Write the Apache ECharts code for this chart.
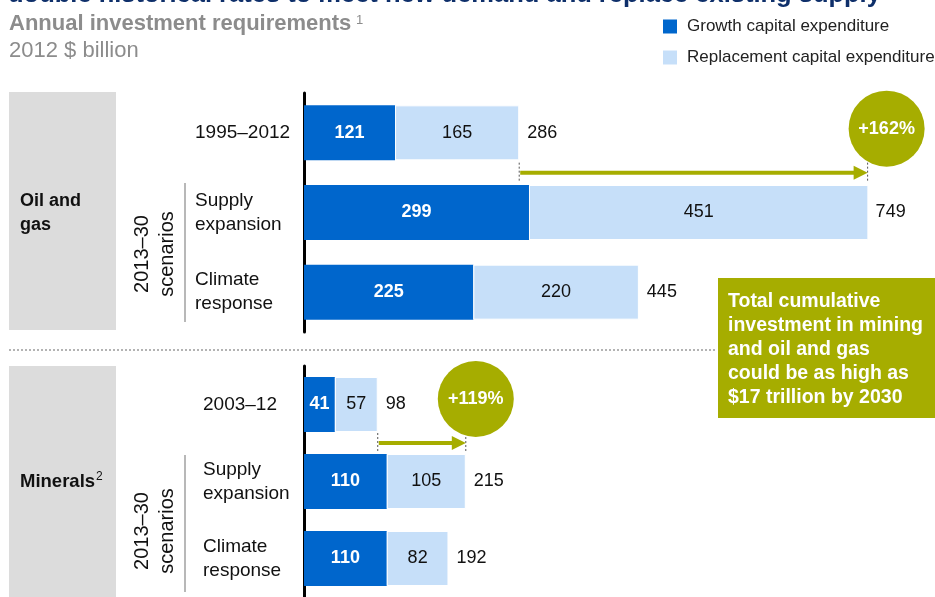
<!DOCTYPE html>
<html>
<head>
<meta charset="utf-8">
<script src="https://cdn.jsdelivr.net/npm/echarts@6/dist/echarts.min.js"></script>
<style>
  html, body { margin: 0; padding: 0; background: #fff; }
  #chart { width: 935px; height: 597px; }
</style>
</head>
<body>
<div id="chart"></div>
<script>
// Annual investment requirements, 2012 $ billion
const oilCategories = ['1995–2012', 'Supply\nexpansion', 'Climate\nresponse'];
const oilGrowth = [121, 299, 225];
const oilReplacement = [165, 451, 220];
const oilTotal = [286, 749, 445];

const mineralCategories = ['2003–12', 'Supply\nexpansion', 'Climate\nresponse'];
const mineralGrowth = [41, 110, 110];
const mineralReplacement = [57, 105, 82];
const mineralTotal = [98, 215, 192];

// Change from historical rate to supply-expansion scenario
const oilChange = '+162%';
const mineralChange = '+119%';

const FONT = 'Liberation Sans, Arial, Helvetica, sans-serif';
const BLUE = '#0066CC';
const LIGHT = '#C6DFF9';
const OLIVE = '#A6AD00';
const GREY_BOX = '#DCDCDC';

const chart = echarts.init(document.getElementById('chart'), null, { renderer: 'canvas' });

function yAxisFor(gridIndex, cats, margin) {
  return {
    type: 'category', gridIndex: gridIndex, data: cats, inverse: true,
    axisLine: { show: true, lineStyle: { color: '#000', width: 3 } },
    axisTick: { show: false },
    axisLabel: {
      align: 'left', margin: margin, fontFamily: FONT, fontSize: 19,
      lineHeight: 24, color: '#111'
    }
  };
}
function xAxisFor(gridIndex) {
  return {
    type: 'value', gridIndex: gridIndex, min: 0, max: 800, show: false,
    splitLine: { show: false }
  };
}
function growthSeries(idx, data) {
  return {
    name: 'Growth capital expenditure', type: 'bar', stack: 'g' + idx,
    xAxisIndex: idx, yAxisIndex: idx, data: data, barWidth: 55,
    itemStyle: { color: BLUE },
    label: { show: true, position: 'inside', color: '#fff', fontWeight: 'bold',
             fontFamily: FONT, fontSize: 18 },
    silent: true
  };
}
function replacementSeries(idx, data) {
  return {
    name: 'Replacement capital expenditure', type: 'bar', stack: 'g' + idx,
    xAxisIndex: idx, yAxisIndex: idx, data: data, barWidth: 55,
    itemStyle: { color: LIGHT, borderColor: '#fff', borderWidth: 1 },
    label: { show: true, position: 'inside', color: '#111',
             fontFamily: FONT, fontSize: 18 },
    silent: true
  };
}
function totalSeries(idx, totals, cats) {
  return {
    type: 'scatter', xAxisIndex: idx, yAxisIndex: idx, symbolSize: 0,
    data: totals.map((t, i) => [t, cats[i]]),
    itemStyle: { opacity: 1 },
    label: { show: true, position: 'right', distance: 8, color: '#111',
             fontFamily: FONT, fontSize: 18, formatter: p => p.value[0] },
    silent: true
  };
}

const staticGraphics = [
  // headline (partly above the canvas)
  { type: 'text', left: 8, top: -18, style: {
      text: 'double historical rates to meet new demand and replace existing supply',
      font: 'bold 25.5px ' + FONT, fill: '#0E2F6A' } },
  { type: 'text', left: 9, top: 13, style: {
      text: 'Annual investment requirements', font: 'bold 22px ' + FONT, fill: '#8C8C8C' } },
  { type: 'text', left: 356, top: 14, style: {
      text: '1', font: '13px ' + FONT, fill: '#8C8C8C' } },
  { type: 'text', left: 9, top: 40, style: {
      text: '2012 $ billion', font: '22px ' + FONT, fill: '#8C8C8C' } },
  // section boxes
  { type: 'rect', shape: { x: 9, y: 92, width: 107, height: 238 }, style: { fill: GREY_BOX }, z: -1 },
  { type: 'rect', shape: { x: 9, y: 366, width: 107, height: 240 }, style: { fill: GREY_BOX }, z: -1 },
  { type: 'text', left: 20, top: 189, style: {
      text: 'Oil and\ngas', font: 'bold 18px ' + FONT, lineHeight: 24, fill: '#111' } },
  { type: 'text', left: 20, top: 472, style: {
      text: 'Minerals', font: 'bold 18.5px ' + FONT, fill: '#111' } },
  { type: 'text', left: 96, top: 471, style: {
      text: '2', font: '12px ' + FONT, fill: '#111' } },
  // scenario brackets
  { type: 'text', x: 155, y: 254, rotation: Math.PI / 2, style: {
      text: '2013–30\nscenarios', font: '20px ' + FONT, lineHeight: 25,
      fill: '#111', align: 'center', verticalAlign: 'middle' } },
  { type: 'line', shape: { x1: 185, y1: 183, x2: 185, y2: 322 }, style: { stroke: '#A0A0A0', lineWidth: 1.5 } },
  { type: 'text', x: 155, y: 531, rotation: Math.PI / 2, style: {
      text: '2013–30\nscenarios', font: '20px ' + FONT, lineHeight: 25,
      fill: '#111', align: 'center', verticalAlign: 'middle' } },
  { type: 'line', shape: { x1: 185, y1: 455, x2: 185, y2: 592 }, style: { stroke: '#A0A0A0', lineWidth: 1.5 } },
  // section divider
  { type: 'line', shape: { x1: 9, y1: 350, x2: 716, y2: 350 },
    style: { stroke: '#9A9A9A', lineWidth: 1.5, lineDash: [2, 2] } },
  // call-out box
  { type: 'rect', shape: { x: 718, y: 278, width: 217, height: 140 }, style: { fill: OLIVE } },
  { type: 'text', left: 728, top: 290, style: {
      text: 'Total cumulative\ninvestment in mining\nand oil and gas\ncould be as high as\n$17 trillion by 2030',
      font: 'bold 19.5px ' + FONT, lineHeight: 24, fill: '#fff' } }
];

chart.setOption({
  animation: false,
  legend: {
    orient: 'vertical', left: 663, top: 18, padding: 0,
    itemWidth: 14, itemHeight: 14, itemGap: 14,
    icon: 'rect', selectedMode: false,
    data: ['Growth capital expenditure', 'Replacement capital expenditure'],
    textStyle: { fontFamily: FONT, fontSize: 17, lineHeight: 17, color: '#222',
                 padding: [0, 0, 0, 5] },
    itemStyle: { borderWidth: 0 }
  },
  grid: [
    { left: 304, top: 93, width: 602, height: 239 },
    { left: 304, top: 366, width: 602, height: 240 }
  ],
  xAxis: [xAxisFor(0), xAxisFor(1)],
  yAxis: [yAxisFor(0, oilCategories, 109), yAxisFor(1, mineralCategories, 101)],
  series: [
    growthSeries(0, oilGrowth), replacementSeries(0, oilReplacement),
    totalSeries(0, oilTotal, oilCategories),
    growthSeries(1, mineralGrowth), replacementSeries(1, mineralReplacement),
    totalSeries(1, mineralTotal, mineralCategories)
  ],
  graphic: staticGraphics
});

// Growth arrows between historical total and supply-expansion total,
// placed through the axes' own scales.
function arrowGroup(gridIdx, fromVal, toVal, label, circleDx) {
  const x1 = chart.convertToPixel({ xAxisIndex: gridIdx }, fromVal);
  const x2 = chart.convertToPixel({ xAxisIndex: gridIdx }, toVal);
  const r0 = chart.convertToPixel({ yAxisIndex: gridIdx }, 0);
  const r1 = chart.convertToPixel({ yAxisIndex: gridIdx }, 1);
  const y = (r0 + r1) / 2;
  const dash = { stroke: '#555', lineWidth: 1, lineDash: [2, 2] };
  return [
    { type: 'line', shape: { x1: x1, y1: y - 10, x2: x1, y2: y + 8 }, style: dash },
    { type: 'line', shape: { x1: x2, y1: y - 10, x2: x2, y2: y + 8 }, style: dash },
    { type: 'line', shape: { x1: x1 + 1, y1: y, x2: x2 - 12, y2: y },
      style: { stroke: OLIVE, lineWidth: 4 } },
    { type: 'polygon', shape: { points: [[x2 - 14, y - 7], [x2, y], [x2 - 14, y + 7]] },
      style: { fill: OLIVE } },
    { type: 'circle', shape: { cx: x2 + circleDx, cy: y - 44, r: 38 }, style: { fill: OLIVE } },
    { type: 'text', x: x2 + circleDx, y: y - 44, style: {
        text: label, font: 'bold 18px ' + FONT, fill: '#fff',
        align: 'center', verticalAlign: 'middle' } }
  ];
}

chart.setOption({
  graphic: staticGraphics.concat(
    arrowGroup(0, oilTotal[0], oilTotal[1], oilChange, 19),
    arrowGroup(1, mineralTotal[0], mineralTotal[1], mineralChange, 10)
  )
}, { replaceMerge: ['graphic'] });
</script>
</body>
</html>
